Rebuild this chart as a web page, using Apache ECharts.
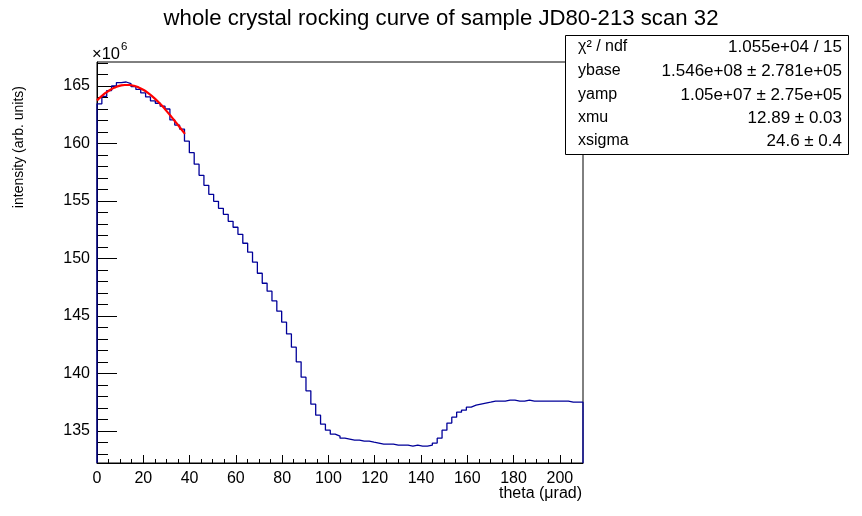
<!DOCTYPE html>
<html><head><meta charset="utf-8">
<script src="https://cdn.jsdelivr.net/npm/echarts@6/dist/echarts.min.js"></script>
<style>html,body{margin:0;padding:0;background:#fff}#c{width:862px;height:516px}</style>
</head><body><div id="c"></div>
<script>
// ---- data ----
const binLow = 0;
const binWidth = 2.1;
const counts = [
  163.45,164.10,164.60,165.00,165.30,165.35,165.20,164.95,164.70,164.40,
  164.05,163.70,163.50,163.25,163.00,162.05,161.60,161.25,160.20,159.20,
  158.20,157.23,156.36,155.58,154.97,154.36,153.84,153.23,152.71,152.10,
  151.32,150.54,149.67,148.71,147.84,147.15,146.30,145.41,144.45,143.43,
  142.28,141.00,139.67,138.48,137.32,136.36,135.58,135.06,134.71,134.54,
  134.36,134.28,134.19,134.19,134.10,134.10,134.01,133.93,133.84,133.84,
  133.84,133.75,133.75,133.75,133.67,133.75,133.67,133.67,133.75,133.93,
  134.36,135.06,135.67,136.19,136.62,136.80,137.06,137.23,137.32,137.41,
  137.49,137.58,137.58,137.58,137.67,137.67,137.58,137.58,137.67,137.58,
  137.58,137.58,137.58,137.58,137.58,137.58,137.58,137.49,137.49,137.49
];
const fitX = [0,2,4,6,8,10,12,14,16,18,20,22,24,26,28,30,32,34,36,38];
const fitY = [163.75,164.12,164.44,164.70,164.89,165.03,165.09,165.09,165.02,164.88,
              164.67,164.40,164.08,163.71,163.30,162.84,162.36,161.86,161.35,160.84];
const xMajorTicks = [0,20,40,60,80,100,120,140,160,180,200];
const xMinorTicks = [5,10,15,25,30,35,45,50,55,65,70,75,85,90,95,105,110,115,125,130,135,145,150,155,165,170,175,185,190,195,205];
const yMajorTicks = [135,140,145,150,155,160,165];
const yMinorTicks = [133,134,136,137,138,139,141,142,143,144,146,147,148,149,151,152,153,154,156,157,158,159,161,162,163,164,166,167];
const statNames = ['χ² / ndf','ybase','yamp','xmu','xsigma'];
const statValues = ['1.055e+04 / 15','1.546e+08 ± 2.781e+05','1.05e+07 ± 2.75e+05','12.89 ± 0.03','24.6 ± 0.4'];
const titleText = 'whole crystal rocking curve of sample JD80-213 scan 32';
const xTitle = 'theta (μrad)';
const yTitle = 'intensity (arb. units)';

const X_MIN = 0, X_MAX = 210, Y_MIN = 132.2, Y_MAX = 167.09;
const FONT = '"Liberation Sans", Arial, sans-serif';

// histogram outline built from bins
const histPts = [[binLow, Y_MIN]];
counts.forEach((v, i) => {
  const x0 = +(binLow + i * binWidth).toFixed(4);
  const x1 = +(binLow + (i + 1) * binWidth).toFixed(4);
  histPts.push([x0, v], [x1, v]);
});
histPts.push([+(binLow + counts.length * binWidth).toFixed(4), Y_MIN]);
const fitPts = fitX.map((x, i) => [x, fitY[i]]);

const chart = echarts.init(document.getElementById('c'), null, {renderer: 'canvas'});

const gfx = [
  {type:'text', x: 441, y: 19, style:{text: titleText, font: '22.2px ' + FONT, fill:'#000', textAlign:'center', textVerticalAlign:'middle'}},
  {type:'text', x: 92, y: 54, style:{text: '×10', font: '16.5px ' + FONT, fill:'#000', textAlign:'left', textVerticalAlign:'middle'}},
  {type:'text', x: 121, y: 47, style:{text: '6', font: '11.5px ' + FONT, fill:'#000', textAlign:'left', textVerticalAlign:'middle'}},
  {type:'text', x: 19, y: 86, rotation: Math.PI/2, style:{text: yTitle, font: '14px ' + FONT, fill:'#000', textAlign:'right', textVerticalAlign:'middle'}},
  {type:'text', x: 582, y: 494, style:{text: xTitle, font: '16px ' + FONT, fill:'#000', textAlign:'right', textVerticalAlign:'middle'}},
  {type:'rect', z: 100, shape:{x:565.5, y:35.5, width:283, height:119}, style:{fill:'#fff', stroke:'#000', lineWidth:1}}
];
const rowY = [47, 71, 95, 118, 141];
statNames.forEach((n, i) => {
  gfx.push({type:'text', z: 101, x: 578, y: rowY[i], style:{text: n, font: '16px ' + FONT, fill:'#000', textAlign:'left', textVerticalAlign:'middle'}});
  gfx.push({type:'text', z: 101, x: 842, y: rowY[i], style:{text: statValues[i], font: '17px ' + FONT, fill:'#000', textAlign:'right', textVerticalAlign:'middle'}});
});

const axisCommon = {
  type:'value', splitLine:{show:false}, splitArea:{show:false}
};

chart.setOption({
  animation: false,
  backgroundColor: '#fff',
  grid: {left: 97, top: 62, width: 486, height: 401, show: true, borderColor: '#000', borderWidth: 1, backgroundColor: 'transparent'},
  xAxis: [
    Object.assign({}, axisCommon, {min: X_MIN, max: X_MAX, position:'bottom',
      axisLine:{show:true, onZero:false, lineStyle:{color:'#000', width:1}},
      axisTick:{show:true, inside:true, length:8, customValues: xMajorTicks, lineStyle:{color:'#000', width:1}},
      axisLabel:{show:true, customValues: xMajorTicks, color:'#000', fontSize:16, fontFamily: FONT, margin:8}}),
    Object.assign({}, axisCommon, {min: X_MIN, max: X_MAX, position:'bottom', gridIndex:0,
      axisLine:{show:false, onZero:false},
      axisTick:{show:true, inside:true, length:4, customValues: xMinorTicks, lineStyle:{color:'#000', width:1}},
      axisLabel:{show:false}})
  ],
  yAxis: [
    Object.assign({}, axisCommon, {min: Y_MIN, max: Y_MAX, position:'left',
      axisLine:{show:true, onZero:false, lineStyle:{color:'#000', width:1}},
      axisTick:{show:true, inside:true, length:20, customValues: yMajorTicks, lineStyle:{color:'#000', width:1}},
      axisLabel:{show:true, customValues: yMajorTicks, color:'#000', fontSize:16, fontFamily: FONT, margin:7}}),
    Object.assign({}, axisCommon, {min: Y_MIN, max: Y_MAX, position:'left', gridIndex:0,
      axisLine:{show:false, onZero:false},
      axisTick:{show:true, inside:true, length:11, customValues: yMinorTicks, lineStyle:{color:'#000', width:1}},
      axisLabel:{show:false}})
  ],
  series: [
    {type:'line', name:'hist', xAxisIndex:0, yAxisIndex:0, data: histPts, showSymbol:false, symbol:'none',
     lineStyle:{color:'#000099', width:1.3}, z: 3, clip: true},
    {type:'line', name:'fit', xAxisIndex:0, yAxisIndex:0, data: fitPts, showSymbol:false, symbol:'none', smooth: true,
     lineStyle:{color:'#ff0000', width:2.2}, z: 4, clip: true}
  ],
  graphic: gfx
});
</script>
</body></html>
